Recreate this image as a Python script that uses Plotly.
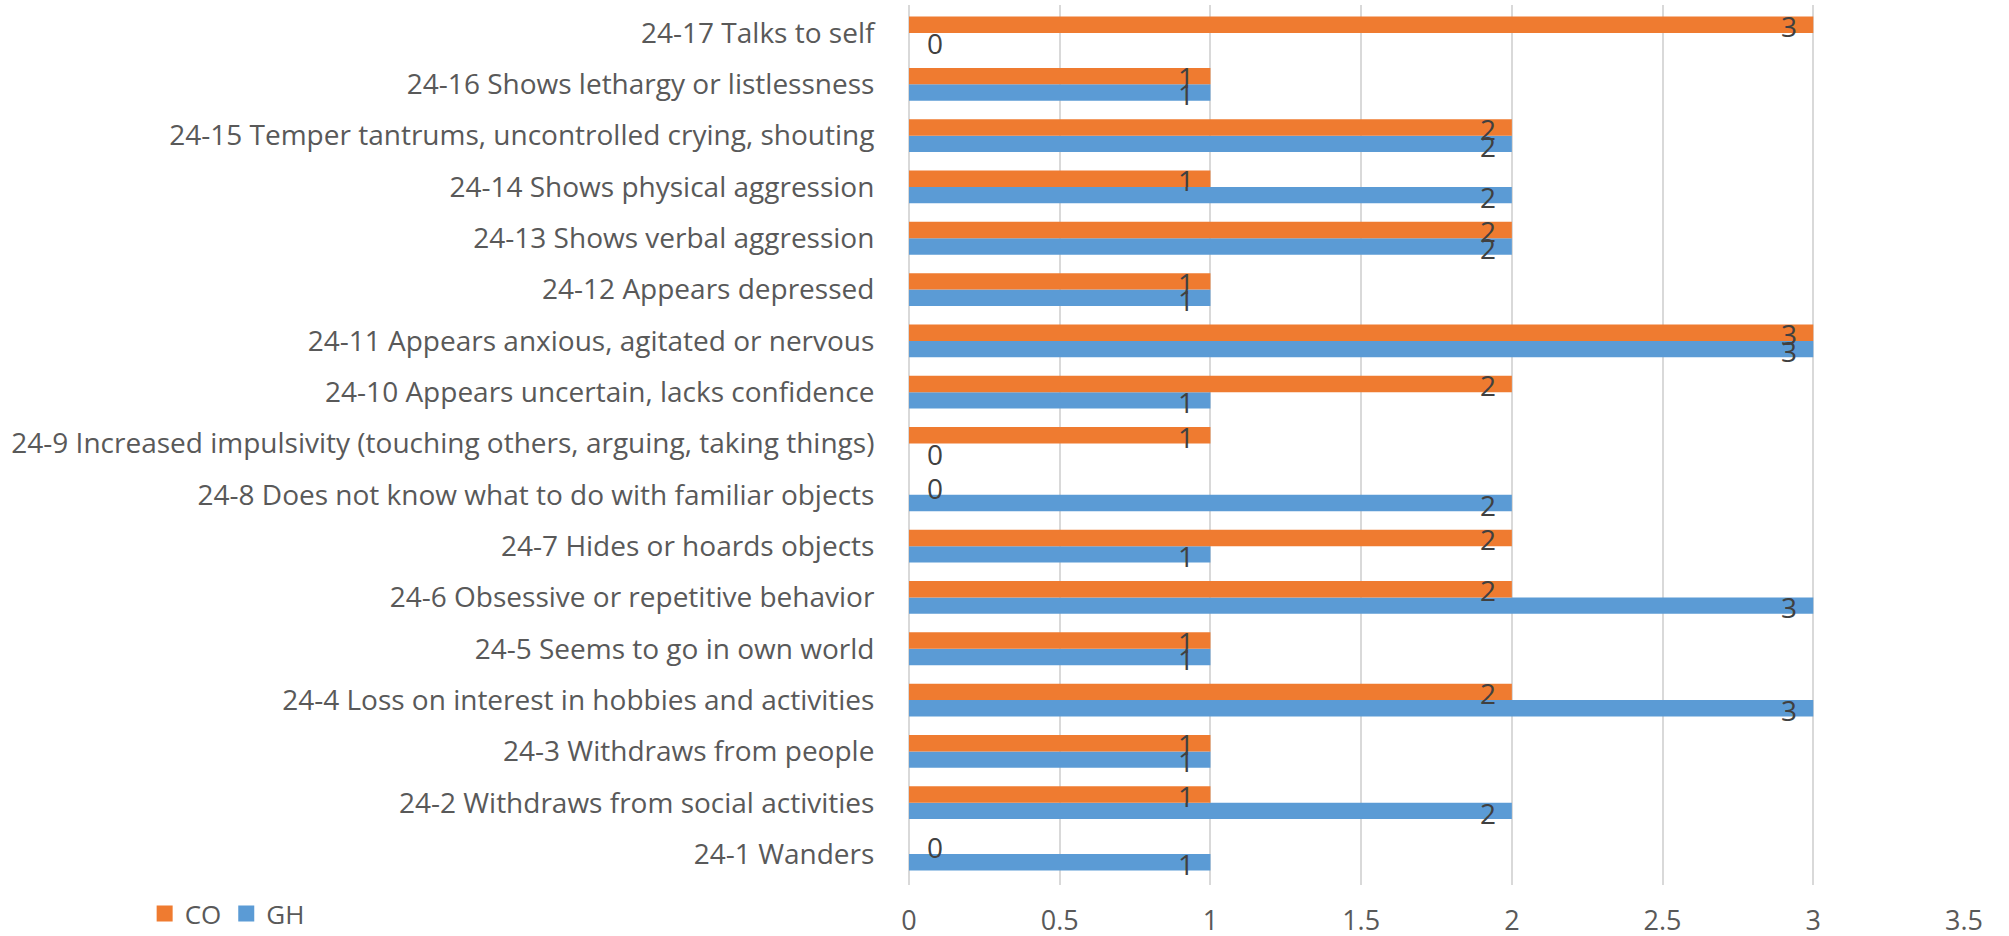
import plotly.graph_objects as go

# ── Data (bottom → top, as drawn) ───────────────────────────────────────────
categories = [
    "24-1 Wanders",
    "24-2 Withdraws from social activities",
    "24-3 Withdraws from people",
    "24-4 Loss on interest in hobbies and activities",
    "24-5 Seems to go in own world",
    "24-6 Obsessive or repetitive behavior",
    "24-7 Hides or hoards objects",
    "24-8 Does not know what to do with familiar objects",
    "24-9 Increased impulsivity (touching others, arguing, taking things)",
    "24-10 Appears uncertain, lacks confidence",
    "24-11 Appears anxious, agitated or nervous",
    "24-12 Appears depressed",
    "24-13 Shows verbal aggression",
    "24-14 Shows physical aggression",
    "24-15 Temper tantrums, uncontrolled crying, shouting",
    "24-16 Shows lethargy or listlessness",
    "24-17 Talks to self",
]
gh_values = [1, 2, 1, 3, 1, 3, 1, 2, 0, 1, 3, 1, 2, 2, 2, 1, 0]
co_values = [0, 1, 1, 2, 1, 2, 2, 0, 1, 2, 3, 1, 2, 1, 2, 1, 3]
x_ticks = [0, 0.5, 1, 1.5, 2, 2.5, 3, 3.5]

ORANGE = "#EF7B30"
BLUE = "#5B9BD5"
FONT = "Open Sans, sans-serif"

fig = go.Figure()

# GH first so it sits at the bottom of each group
fig.add_trace(go.Bar(
    name="GH", y=categories, x=gh_values, orientation="h",
    marker=dict(color=BLUE, line=dict(width=0)),
    showlegend=False,
))
fig.add_trace(go.Bar(
    name="CO", y=categories, x=co_values, orientation="h",
    marker=dict(color=ORANGE, line=dict(width=0)),
    showlegend=False,
))

# legend-only entries with bigger square swatches
for name, colour in (("GH", BLUE), ("CO", ORANGE)):
    fig.add_trace(go.Scatter(
        x=[None], y=[None], mode="markers", name=name,
        marker=dict(symbol="square", size=16, color=colour),
    ))

# ── Data labels: inside end, or just right of the axis for zeros ─────────────
annotations = []
for series, shift in ((gh_values, -10), (co_values, 7)):
    for cat, v in zip(categories, series):
        annotations.append(dict(
            x=v, y=cat, xref="x", yref="y",
            text=str(v), showarrow=False,
            xanchor="left" if v == 0 else "right",
            xshift=16 if v == 0 else -14,
            yshift=shift,
            font=dict(family=FONT, size=28, color="#404040"),
        ))

fig.update_layout(
    width=2009, height=936,
    barmode="group",
    bargap=0.36,
    bargroupgap=0,
    plot_bgcolor="white",
    paper_bgcolor="white",
    font=dict(family=FONT, color="#595959"),
    margin=dict(l=909, r=45, t=5, b=51),
    annotations=annotations,
    xaxis=dict(
        range=[0, 3.5],
        tickvals=x_ticks,
        ticktext=[f"{t:g}" for t in x_ticks],
        showgrid=True, gridcolor="#D9D9D9", gridwidth=1.5,
        zeroline=True, zerolinecolor="#D9D9D9", zerolinewidth=1.5,
        ticks="outside", ticklen=12, tickcolor="rgba(0,0,0,0)",
        tickfont=dict(family=FONT, size=27, color="#595959"),
        showline=False,
        automargin=False,
        fixedrange=True,
    ),
    yaxis=dict(
        showgrid=False,
        ticks="outside", ticklen=28, tickcolor="rgba(0,0,0,0)",
        tickfont=dict(family=FONT, size=28, color="#595959"),
        showline=False,
        automargin=False,
        fixedrange=True,
    ),
    showlegend=True,
    legend=dict(
        orientation="h",
        traceorder="reversed",
        xref="container", yref="container",
        x=0.072, xanchor="left",
        y=0.024, yanchor="middle",
        font=dict(family=FONT, size=26, color="#595959"),
        bgcolor="rgba(0,0,0,0)",
        itemwidth=30,
    ),
)

# drop the default body margin so the figure sits at the page origin
fig.write_html(
    "out.html",
    config={"displayModeBar": False},
    post_script="document.body.style.margin='0';",
)
